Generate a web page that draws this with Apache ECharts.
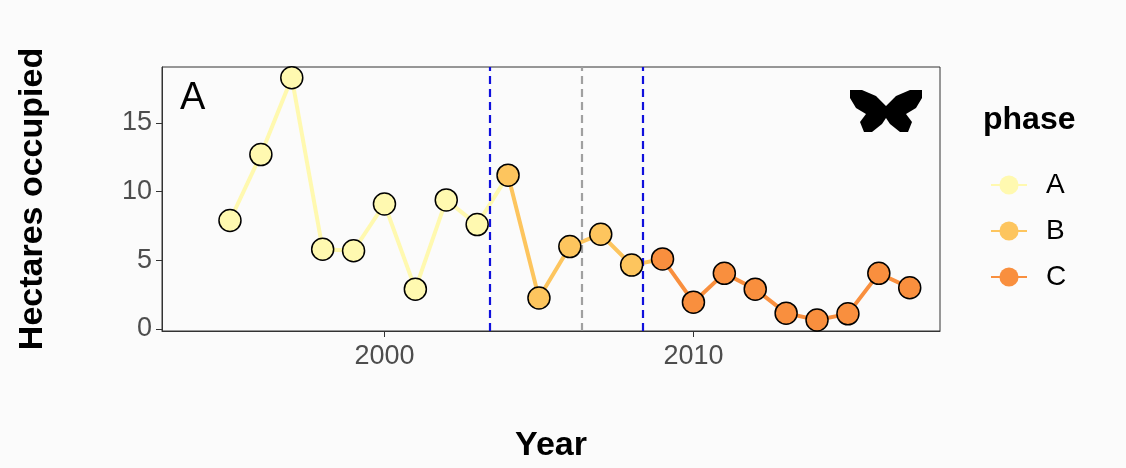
<!DOCTYPE html>
<html><head><meta charset="utf-8">
<script src="https://cdn.jsdelivr.net/npm/echarts@6/dist/echarts.min.js"></script>
<style>html,body{margin:0;background:#fbfbfb}#c{width:1126px;height:468px}</style>
</head><body><div id="c"></div>
<script>
const years=[1995,1996,1997,1998,1999,2000,2001,2002,2003,2004,2005,2006,2007,2008,2009,2010,2011,2012,2013,2014,2015,2016,2017];
const hectares=[7.9,12.7,18.3,5.8,5.7,9.1,2.9,9.4,7.6,11.2,2.25,6.0,6.9,4.65,5.1,1.95,4.05,2.9,1.15,0.65,1.1,4.05,3.0];
const phases=['A','A','A','A','A','A','A','A','A','B','B','B','B','B','C','C','C','C','C','C','C','C','C'];
const phaseNames=['A','B','C'];
const phaseColors={A:'#FFF9B0',B:'#FDC55E',C:'#F98F3E'};
const breakYears=[2003.4,2006.37,2008.35];
const breakColors=['#1010dd','#a0a0a0','#1010dd'];
const xTicks=[2000,2010];
const yTicks=[0,5,10,15];

const ch=echarts.init(document.getElementById('c'));
const series=[];
phaseNames.forEach(p=>{
  const d=[];
  years.forEach((y,i)=>{
    if(phases[i]===p){d.push([y,hectares[i]]);}
    else if(i>0&&phases[i-1]===p){d.push([y,hectares[i]]);}
  });
  series.push({name:p,type:'line',data:d,symbol:'circle',symbolSize:20,showSymbol:false,
    lineStyle:{color:phaseColors[p],width:4},itemStyle:{color:phaseColors[p]},z:2,silent:true});
});
series.push({type:'scatter',data:years.map((y,i)=>({value:[y,hectares[i]],itemStyle:{color:phaseColors[phases[i]]}})),
  symbolSize:22,itemStyle:{borderColor:'#000',borderWidth:1.5,opacity:1},z:5,silent:true,
  markLine:{silent:true,symbol:'none',label:{show:false},
    data:breakYears.map((x,i)=>({xAxis:x,lineStyle:{color:breakColors[i],type:[8,5],width:2.2}}))}});
const bx=886,by=94;
const wing=[[0,12],[-10,2],[-24,-4],[-36,-4],[-36,4],[-30,14],[-20,20],[-26,28],[-22,38],[-14,38],[-4,30],[0,24],[4,30],[14,38],[22,38],[26,28],[20,20],[30,14],[36,4],[36,-4],[24,-4],[10,2]];
ch.setOption({
  animation:false,backgroundColor:'#fbfbfb',
  grid:{left:162,right:186,top:67,bottom:137},
  xAxis:{type:'value',min:1992.8,max:2017.98,name:'Year',nameLocation:'middle',nameGap:98,
    nameTextStyle:{fontSize:34,fontWeight:'bold',color:'#000',fontFamily:'Liberation Sans'},
    axisLine:{show:true,onZero:false,lineStyle:{color:'#333',width:1}},
    axisTick:{show:true,customValues:xTicks,length:6,lineStyle:{color:'#333'}},
    axisLabel:{customValues:xTicks,formatter:v=>String(v),fontSize:27,color:'#4d4d4d',margin:12,fontFamily:'Liberation Sans'},
    splitLine:{show:false}},
  yAxis:{type:'value',min:-0.15,max:19.08,name:'Hectares occupied',nameLocation:'middle',nameGap:112,
    nameTextStyle:{fontSize:34,fontWeight:'bold',color:'#000',fontFamily:'Liberation Sans'},
    axisLine:{show:true,lineStyle:{color:'#333',width:1}},
    axisTick:{show:true,customValues:yTicks,length:6,lineStyle:{color:'#333'}},
    axisLabel:{customValues:yTicks,fontSize:27,color:'#4d4d4d',margin:10,fontFamily:'Liberation Sans'},
    splitLine:{show:false}},
  legend:{orient:'vertical',left:985,top:166,itemGap:18,itemWidth:36,itemHeight:24,
    data:phaseNames,textStyle:{fontSize:28,color:'#000',fontFamily:'Liberation Sans',padding:[0,0,0,14]}},
  graphic:[
    {type:'rect',shape:{x:162,y:67,width:778,height:264},style:{fill:'none',stroke:'#333',lineWidth:1},silent:true},
    {type:'text',x:983,y:104,style:{text:'phase',fontSize:32,fontWeight:'bold',fill:'#000',fontFamily:'Liberation Sans'}},
    {type:'text',x:180,y:80,style:{text:'A',fontSize:38,fill:'#000',fontFamily:'Liberation Sans'}},
    {type:'polygon',shape:{points:wing.map(p=>[p[0]+bx,p[1]+by])},style:{fill:'#000'},silent:true}
  ],
  series:series
});
</script></body></html>
